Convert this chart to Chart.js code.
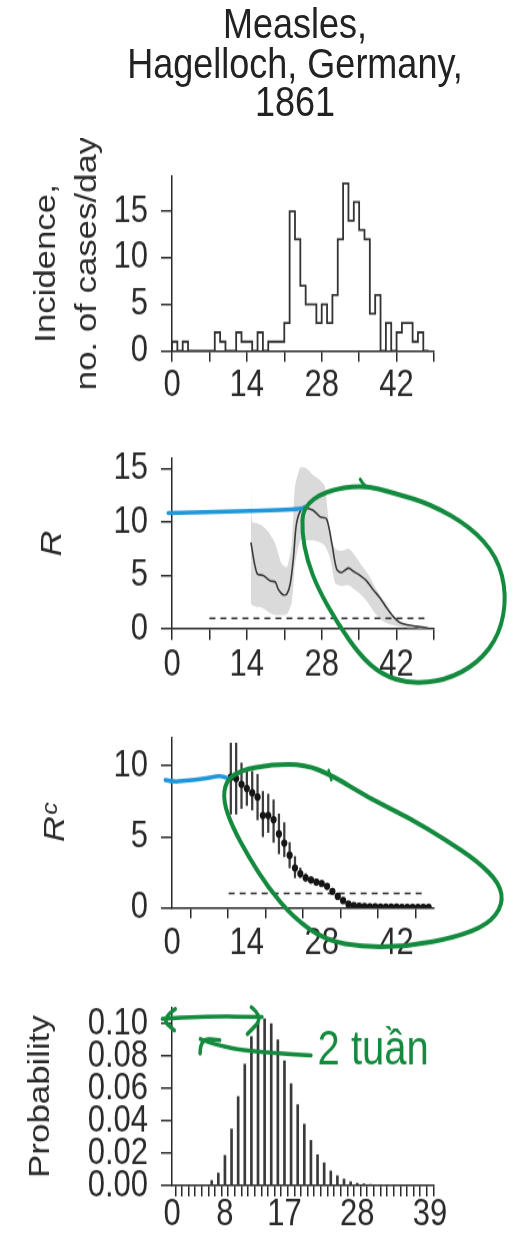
<!DOCTYPE html>
<html>
<head>
<meta charset="utf-8">
<script src="https://cdn.jsdelivr.net/npm/chart.js@4.4.1/dist/chart.umd.min.js"></script>
<style>
  body { margin: 0; background: #fff; }
  #page { width: 513px; height: 1234px; overflow: hidden; background: #fff; }
  /* the figure is drawn squeezed and stretched back up, the source image is taller than wide */
  #wrap { position: relative; width: 513px; height: 1029px; transform-origin: 0 0; }
  canvas { position: absolute; left: 0; }
  #title { position: absolute; left: 95px; width: 400px; top: 4px; text-align: center;
    font: 36px/32.5px "Liberation Sans", Arial, sans-serif; color: #222; }
</style>
</head>
<body>
<div id="page">
<div id="wrap">
  <div id="title">Measles,<br>Hagelloch, Germany,<br>1861</div>
  <canvas id="incChart"></canvas>
  <canvas id="rChart"></canvas>
  <canvas id="rcChart"></canvas>
  <canvas id="probChart"></canvas>
</div>
</div>
<script>
// incidence, cases per day (step histogram)
const incDays = [0,1,2,3,4,5,6,7,8,9,10,11,12,13,14,15,16,17,18,19,20,21,22,23,24,25,26,27,28,29,30,31,32,33,34,35,36,37,38,39,40,41,42,43,44,45,46,47,48];
const incidence = [0,1,0,1,0,0,0,0,0,2,1,0,0,2,1,1,0,2,0,1,1,1,3,15,12,7,5,5,3,5,3,6,12,18,14,16,13,12,4,6,0,3,0,2,3,3,1,2,0];

// R estimate with its band
const rDays = [14.75,15.9,17.1,18.4,19.3,19.9,20.8,21.5,22.1,22.7,23.3,24.3,25.2,26.4,27.7,28.9,29.9,30.8,31.7,33.0,33.9,35.2,36.4,37.6,38.9,40.1,41.4,42.6,44.5,46.4,47.9];
const rValues = [8.1,5.2,5.0,4.5,4.4,3.7,3.2,3.3,4.2,6.6,9.9,11.3,11.3,11.1,10.5,10.3,8.0,5.6,5.3,5.7,5.4,5.0,4.5,3.7,2.9,2.0,1.15,0.6,0.35,0.2,0.1];
const bandDays = [14.75,15.0,15.8,16.8,18.0,19.3,20.5,21.5,22.4,23.0,24.0,25.2,26.4,27.7,28.6,29.6,30.5,31.7,33.0,34.2,35.4,36.6,37.8,39.0,40.2,41.4,42.6,44.5,46.4,47.9];
const bandUpper = [14.3,10.0,9.9,9.7,9.1,8.0,6.1,5.8,8.0,13.3,15.1,15.0,14.4,13.9,13.3,8.8,7.5,7.3,7.5,6.9,6.0,5.2,4.1,3.1,2.3,1.3,0.7,0.35,0.2,0.1];
const bandLower = [2.4,2.2,2.1,2.0,1.6,1.3,1.3,1.4,2.5,6.0,8.3,8.3,8.3,8.1,7.8,6.6,4.3,4.0,4.1,3.7,3.2,2.5,1.6,0.9,0.55,0.35,0.2,0.1,0.05,0.05];

// case reproduction number Rc with intervals
const rcDays = [11,12,13,14,15,16,17,18,19,20,21,22,23,24,25,26,27,28,29,30,31,32,33,34,35,36,37,38,39,40,41,42,43,44,45,46,47,48];
const rcValues = [9.2,9.1,8.7,8.4,8.1,7.8,6.5,6.5,6.2,5.2,4.55,3.7,2.8,2.4,2.1,1.95,1.8,1.7,1.5,1.15,0.8,0.5,0.25,0.15,0.1,0.08,0.07,0.06,0.05,0.05,0.04,0.04,0.03,0.03,0.03,0.02,0.02,0.02];
const rcLow = [6.6,6.6,7.0,7.2,6.9,6.2,5.0,5.3,4.6,3.8,3.6,2.8,2.1,2.1,1.9,1.8,1.65,1.55,1.35,1.0,0.7,0.4,0.18,0.1,0.06,0.05,0.04,0.03,0.03,0.02,0.02,0.02,0.01,0.01,0.01,0.01,0.01,0.01];
const rcHigh = [11.6,11.6,10.2,9.8,9.6,9.4,8.2,8.0,7.6,6.6,6.0,4.6,3.6,2.8,2.4,2.15,2.0,1.9,1.7,1.35,1.0,0.65,0.35,0.22,0.15,0.12,0.1,0.09,0.08,0.07,0.07,0.06,0.05,0.05,0.05,0.04,0.04,0.04];

// generation interval distribution
const genDays = [0,1,2,3,4,5,6,7,8,9,10,11,12,13,14,15,16,17,18,19,20,21,22,23,24,25,26,27,28,29,30,31,32,33,34,35,36,37,38,39];
const genProb = [0,0,0,0,0,0,0.003,0.0077,0.0187,0.035,0.055,0.075,0.092,0.101,0.103,0.100,0.090,0.077,0.063,0.050,0.038,0.028,0.019,0.014,0.009,0.006,0.004,0.0024,0.0015,0.001,0.0006,0.0004,0.0002,0.0001,0,0,0,0,0,0];

// tick labels
const dayLabels = [0, 14, 28, 42];
const genLabels = [0, 8, 17, 28, 39];
const threshold = 1;

const K = 1.2; // vertical stretch of the whole figure
document.getElementById('wrap').style.transform = 'scaleY(' + K + ')';

const fontFam = '"Liberation Sans", Arial, Helvetica, sans-serif';
const ink = '#2a2a2a';
const green = '#148a3e';
const blue = '#1f97d9';

// hand drawn marks on top of the panels, points given in data units
const scribble = {
  id: 'scribble',
  afterDraw(chart, args, opts) {
    const ctx = chart.ctx;
    const sx = chart.scales.x, sy = chart.scales.y;
    const px = q => [sx.getPixelForValue(q[0]), sy.getPixelForValue(q[1])];
    const mid = (a, b) => [(a[0] + b[0]) / 2, (a[1] + b[1]) / 2];
    (opts.strokes || []).forEach(s => {
      const p = s.pts.map(px);
      ctx.save();
      ctx.strokeStyle = s.color;
      ctx.lineWidth = s.width;
      ctx.lineCap = 'round';
      ctx.lineJoin = 'round';
      ctx.beginPath();
      if (s.closed) {
        const n = p.length;
        let m = mid(p[n - 1], p[0]);
        ctx.moveTo(m[0], m[1]);
        for (let i = 0; i < n; i++) {
          m = mid(p[i], p[(i + 1) % n]);
          ctx.quadraticCurveTo(p[i][0], p[i][1], m[0], m[1]);
        }
      } else {
        ctx.moveTo(p[0][0], p[0][1]);
        for (let i = 1; i < p.length - 1; i++) {
          const m = mid(p[i], p[i + 1]);
          ctx.quadraticCurveTo(p[i][0], p[i][1], m[0], m[1]);
        }
        ctx.lineTo(p[p.length - 1][0], p[p.length - 1][1]);
      }
      ctx.stroke();
      ctx.restore();
    });
    (opts.texts || []).forEach(t => {
      const p = px(t.at);
      ctx.save();
      ctx.fillStyle = t.color;
      ctx.font = t.font;
      ctx.textBaseline = 'alphabetic';
      ctx.fillText(t.text, p[0], p[1]);
      ctx.restore();
    });
  }
};

// panel frame in page pixels: canvas top/bottom, plot top/bottom
function setup(id, top, bottom, plotTop, plotBottom) {
  const c = document.getElementById(id);
  c.width = 513;
  c.height = Math.round((bottom - top) / K);
  c.style.top = (top / K) + 'px';
  return { c: c, padTop: (plotTop - top) / K, xh: c.height - (plotBottom - top) / K };
}

function xAxis(max, step, labels, h, pad) {
  return {
    type: 'linear', min: 0, max: max, offset: false,
    afterFit: s => { s.height = h; },
    border: { color: ink, width: 1.5 },
    grid: { drawOnChartArea: false, tickLength: 9, color: ink, lineWidth: 1.5 },
    ticks: {
      stepSize: step, autoSkip: false, maxRotation: 0, includeBounds: false, padding: pad,
      color: ink, font: { family: fontFam, size: 31 },
      callback: v => labels.includes(v) ? String(v) : ''
    }
  };
}

function yAxis(max, step, title, titleFont, pad, digits) {
  return {
    min: 0, max: max,
    afterFit: s => { s.width = 172; },
    border: { color: ink, width: 1.5 },
    grid: { drawOnChartArea: false, tickLength: 11, color: ink, lineWidth: 1.5 },
    ticks: {
      stepSize: step, autoSkip: false, includeBounds: false, padding: 13,
      color: ink, font: { family: fontFam, size: 31 },
      callback: v => v.toFixed(digits)
    },
    title: { display: true, text: title, color: ink, font: titleFont, padding: { top: pad, bottom: 0 } }
  };
}

function base(xs, ys, marks, padTop) {
  return {
    responsive: false,
    animation: false,
    devicePixelRatio: 1,
    layout: { padding: { top: padTop, right: 79, left: 0, bottom: 0 } },
    plugins: { legend: { display: false }, tooltip: { enabled: false }, scribble: marks },
    scales: { x: xs, y: ys }
  };
}

// panel 1: incidence
const p1 = setup('incChart', 138, 402, 153, 351);
new Chart(p1.c, {
  type: 'line',
  data: {
    datasets: [{
      data: incDays.map((d, i) => ({ x: d, y: incidence[i] })),
      stepped: 'after', borderColor: '#333', borderWidth: 1.8, pointRadius: 0, fill: false
    }]
  },
  options: base(
    xAxis(49, 7, dayLabels, p1.xh, 1),
    yAxis(18.8, 5, ['Incidence,', 'no. of cases/day'], { family: fontFam, size: 29, lineHeight: 1.4 }, 27, 0),
    {}, p1.padTop),
  plugins: [scribble]
});

// panel 2: R
const p2 = setup('rChart', 420, 700, 432, 629);
new Chart(p2.c, {
  type: 'line',
  data: {
    datasets: [
      { data: rDays.map((d, i) => ({ x: d, y: rValues[i] })), borderColor: '#3a3a3a', borderWidth: 1.6,
        pointRadius: 0, tension: 0.3, fill: false, order: 0 },
      { data: bandDays.map((d, i) => ({ x: d, y: bandUpper[i] })), borderWidth: 0, pointRadius: 0,
        tension: 0.2, fill: '+1', backgroundColor: '#dadada', order: 2 },
      { data: bandDays.map((d, i) => ({ x: d, y: bandLower[i] })), borderWidth: 0, pointRadius: 0,
        tension: 0.2, fill: false, order: 2 },
      { data: [{ x: 7, y: threshold }, { x: 48, y: threshold }], borderColor: '#333', borderWidth: 1.4,
        borderDash: [6, 5], pointRadius: 0, fill: false, order: 1 }
    ]
  },
  options: base(
    xAxis(49, 7, dayLabels, p2.xh, 3),
    yAxis(16, 5, 'R', { family: fontFam, size: 30, style: 'italic', lineHeight: 1.2 }, 35, 0),
    {
      strokes: [
        { color: blue, width: 3.5, pts: [[-0.7, 10.86], [9, 10.94], [24, 11.18], [24.9, 11.43]] },
        { color: green, width: 4, closed: true, pts: [
          [24.5, 11.4], [28.6, 12.9], [35.7, 13.5], [41.7, 12.7], [48.3, 11.7], [55.7, 9.6], [60.8, 6.8],
          [62.6, 3.2], [61.3, -0.5], [57.2, -3.2], [51.1, -4.8], [44.5, -5.1], [39.3, -4.3], [35.2, -2.5],
          [30.9, 0.6], [27.3, 3.8], [25.3, 6.4], [24.3, 9.0]] },
        { color: green, width: 3, pts: [[35.2, 14.0], [35.9, 13.4], [36.8, 13.3]] }
      ]
    }, p2.padTop),
  plugins: [scribble]
});

// panel 3: Rc
const p3 = setup('rcChart', 700, 970, 711, 908);
new Chart(p3.c, {
  type: 'line',
  data: {
    datasets: [
      { type: 'scatter', data: rcDays.map((d, i) => ({ x: d, y: rcValues[i] })), pointRadius: 3.1,
        pointBackgroundColor: '#151515', pointBorderWidth: 0, showLine: false, order: 0 },
      { type: 'bar', data: rcDays.map((d, i) => ({ x: d, y: [rcLow[i], rcHigh[i]] })), barThickness: 1.6,
        backgroundColor: '#3d3d3d', order: 1 },
      { data: [{ x: 10.6, y: threshold }, { x: 47, y: threshold }], borderColor: '#333', borderWidth: 1.4,
        borderDash: [6, 5], pointRadius: 0, fill: false, order: 2 }
    ]
  },
  options: base(
    xAxis(49, 7, dayLabels, p3.xh, 3),
    yAxis(12, 5, 'Rᶜ', { family: fontFam + ', "DejaVu Sans"', size: 30, style: 'italic', lineHeight: 1.2 }, 38, 0),
    {
      strokes: [
        { color: blue, width: 3.5, pts: [[-1.25, 9.0], [0.06, 8.88], [2.5, 8.94], [5.3, 9.06], [7.5, 9.19], [9.0, 9.31], [10.5, 9.12]] },
        { color: green, width: 4, closed: true, pts: [
          [12.8, 9.7], [18.7, 10.1], [24.9, 10.1], [30.1, 9.3], [37.0, 7.7], [44.5, 6.3], [51.1, 4.8],
          [57.2, 3.25], [61.3, 1.7], [61.9, 0.2], [59.1, -1.2], [52.9, -2.1], [44.5, -2.7], [36.1, -2.8],
          [28.6, -2.3], [22.7, -0.7], [18.0, 1.4], [14.3, 3.6], [11.3, 5.7], [9.6, 7.5], [10.0, 8.9]] },
        { color: green, width: 2.5, pts: [[29.3, 9.7], [29.8, 9.0]] }
      ]
    }, p3.padTop),
  plugins: [scribble]
});

// panel 4: generation interval
const p4 = setup('probChart', 970, 1234, 988, 1186);
new Chart(p4.c, {
  type: 'bar',
  data: {
    datasets: [{
      data: genDays.map((d, i) => ({ x: d, y: genProb[i] })),
      barThickness: 2, backgroundColor: '#3a3a3a'
    }]
  },
  options: base(
    xAxis(39.6, 1, genLabels, p4.xh, -3),
    yAxis(0.11, 0.02, 'Probability', { family: fontFam, size: 29, lineHeight: 1.2 }, 24, 2),
    {
      strokes: [
        { color: green, width: 3.5, pts: [[-1.45, 0.1030], [5.7, 0.1047], [13.6, 0.1041]] },
        { color: green, width: 3.5, pts: [[0.5, 0.1091], [-1.6, 0.1030], [0.35, 0.0959]] },
        { color: green, width: 3.5, pts: [[12.0, 0.1102], [13.85, 0.1041], [11.4, 0.0937]] },
        { color: green, width: 3.5, pts: [[21.0, 0.0804], [11.7, 0.0826], [6.5, 0.0871], [4.3, 0.0905]] },
        { color: green, width: 3.5, pts: [[4.25, 0.0815], [4.25, 0.0909], [7.2, 0.0898]] }
      ],
      texts: [{ text: '2 tuần', at: [22.0, 0.0745], color: green, font: '40px ' + fontFam }]
    }, p4.padTop),
  plugins: [scribble]
});
</script>
</body>
</html>
